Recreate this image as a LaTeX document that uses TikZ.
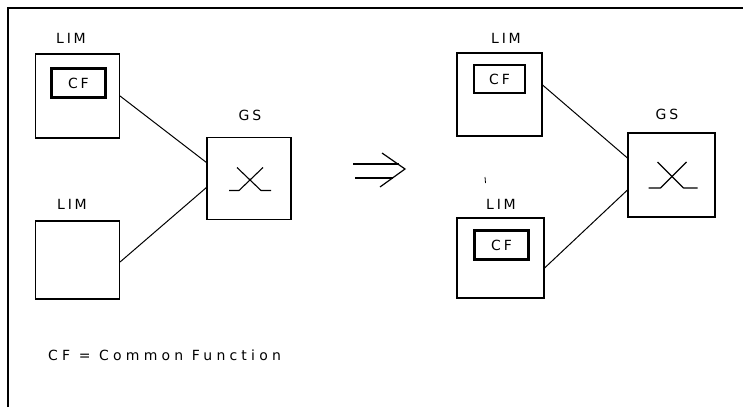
\documentclass[tikz,border=0pt]{standalone}
\usepackage{fontspec}
\setmainfont[LetterSpace=20]{DejaVu Sans}
\newfontfamily\legendfont[LetterSpace=30]{DejaVu Sans}
\begin{document}
\begin{tikzpicture}[x=1pt,y=-1pt,
  every node/.style={font=\fontsize{14}{16}\selectfont, inner sep=0pt},
  limbox/.style={draw, line width=1.1pt, minimum width=84pt, minimum height=82pt},
  gsbox/.style={draw, line width=1.1pt, minimum width=84pt, minimum height=82pt},
  cfbox/.style={draw, line width=2.4pt, minimum width=54pt, minimum height=29pt},
  link/.style={line width=1pt},
  xsym/.style={line width=1.1pt, line join=round}]
\useasboundingbox (0,0) rectangle (743,407);

% outer frame (top and left edges)
\draw[line width=1.1pt] (8,407) -- (8,8) -- (743,8);

% ---------- before ----------
\node[limbox, minimum height=84pt] (lt) at (77.5,96) {};
\node[cfbox] (cft) at (78.5,83) {CF};
\node (ltl) at (71,38) {LIM};

\node[limbox, minimum height=78pt] (lb) at (77.5,260) {};
\node (lbl) at (72,204) {LIM};

\node[gsbox] (gl) at (249,178.5) {};
\node (gll) at (250,115) {GS};

\draw[link] (lt.east) -- ([yshift=16pt]gl.west);
\draw[link] ([yshift=-2pt]lb.east) -- ([yshift=-9pt]gl.west);

% crosspoint symbol
\draw[xsym] ([shift={(-12,-11)}]gl.center) -- ++(24,23) -- ++(10,0);
\draw[xsym] ([shift={(14,-11)}]gl.center) -- ++(-24,23) -- ++(-10,0);

% ---------- transition arrow ----------
\coordinate (imp) at (405,169);
\draw[line width=1.2pt] ([shift={(-52,-5)}]imp) -- ([shift={(-6,-5)}]imp);
\draw[line width=1.2pt] ([shift={(-50,9)}]imp) -- ([shift={(-12,9)}]imp);
\draw[line width=1.2pt, line join=miter] ([shift={(-23,-16)}]imp) -- (imp) -- ([shift={(-25,18)}]imp);

% ---------- after ----------
\node[limbox, minimum width=85pt, minimum height=83pt] (rt) at (499.5,94.5) {};
\node[cfbox, minimum width=51pt, minimum height=28pt] (cfr1) at (499.5,79) {CF};
\node (rtl) at (506,38) {LIM};

\node[limbox, minimum width=87pt, minimum height=80pt] (rb) at (500.5,258) {};
\node[cfbox] (cfr2) at (501.5,245) {CF};
\node (rbl) at (501,204) {LIM};

\node[gsbox, minimum width=87pt, minimum height=84pt] (gr) at (671.5,175) {};
\node (grl) at (667,114) {GS};

\draw[link] ([yshift=9.5pt]rt.east) -- ([yshift=17pt]gr.west);
\draw[link] ([yshift=-10pt]rb.east) -- ([yshift=-15pt]gr.west);

\draw[xsym] ([shift={(-14,-13)}]gr.center) -- ++(26,26) -- ++(14,0);
\draw[xsym] ([shift={(15,-13)}]gr.center) -- ++(-26,26) -- ++(-12,0);

% small mark above the lower LIM label
\coordinate (tick) at (485,177);
\draw[line width=0.8pt] (tick) -- ++(0.5,6);

% legend
\node[anchor=west, font=\legendfont\fontsize{14}{16}\selectfont] (legend) at (48,355) {CF = Common Function};
\end{tikzpicture}
\end{document}
